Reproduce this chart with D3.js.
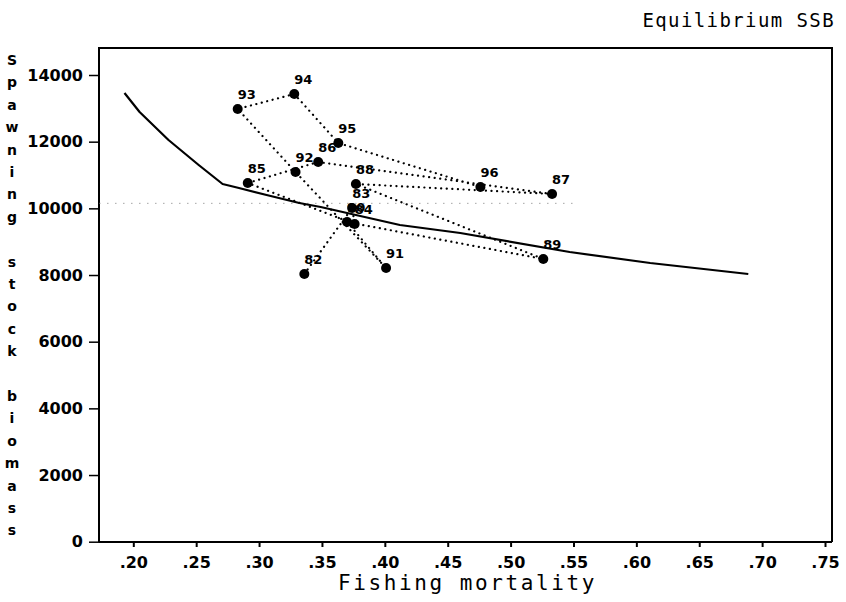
<!DOCTYPE html>
<html>
<head>
<meta charset="utf-8">
<script src="https://cdn.jsdelivr.net/npm/d3@7"></script>
<style>
  html, body { margin: 0; padding: 0; background: #fff; }
  svg { display: block; }
</style>
</head>
<body>
<svg id="chart" width="846" height="602"></svg>
<script>
// ---- data ----
const years = ["82","83","84","85","86","87","88","89","90","91","92","93","94","95","96"];
const fishingMortality = [0.336,0.374,0.376,0.291,0.347,0.533,0.377,0.526,0.370,0.401,0.329,0.283,0.328,0.363,0.476];
const spawningStock = [8030,10010,9530,10760,11390,10430,10730,8480,9590,8210,11090,12980,13430,11960,10640];

const eqF   = [0.193,0.205,0.228,0.252,0.271,0.284,0.306,0.332,0.349,0.412,0.460,0.547,0.611,0.689];
const eqSSB = [13460,12890,12050,11300,10730,10610,10400,10160,10040,9500,9260,8690,8360,8030];

const refLineSSB = 10150;
const refLineF = [0.173, 0.55];

const xTicks = [0.20,0.25,0.30,0.35,0.40,0.45,0.50,0.55,0.60,0.65,0.70,0.75];
const yTicks = [0,2000,4000,6000,8000,10000,12000,14000];

const titleText = "Equilibrium SSB";
const xTitle = "Fishing mortality";
const yTitle = "Spawning stock biomass";

// ---- layout ----
const svg = d3.select("#chart");
const frame = {left: 99, right: 832, top: 48, bottom: 542};
const x = d3.scaleLinear().domain([0.20, 0.75]).range([133.3, 825]);
const y = d3.scaleLinear().domain([0, 14000]).range([541.7, 75]);

const numFont = "'DejaVu Sans', Verdana, sans-serif";
const monoFont = "'DejaVu Sans Mono', 'Liberation Mono', monospace";

// frame
svg.append("path")
  .attr("d", `M${frame.left},${frame.bottom}V${frame.top}H${frame.right}V${frame.bottom}`)
  .attr("fill", "none").attr("stroke", "#000").attr("stroke-width", 2);

// reference dotted line
svg.append("line")
  .attr("x1", x(refLineF[0])).attr("x2", x(refLineF[1]))
  .attr("y1", y(refLineSSB)).attr("y2", y(refLineSSB))
  .attr("stroke", "#777").attr("stroke-width", 1)
  .attr("stroke-dasharray", "1,7");

// x axis
const xAxis = d3.axisBottom(x).tickValues(xTicks).tickSize(5).tickPadding(10)
  .tickFormat(d => d3.format(".2f")(d).replace(/^0/, ""));
const gx = svg.append("g").attr("transform", `translate(0,${frame.bottom})`).call(xAxis);
gx.select(".domain").attr("d", `M${frame.left},0H${frame.right}`).attr("stroke-width", 2);
gx.selectAll(".tick line").attr("stroke-width", 2);
gx.selectAll(".tick text").attr("font-family", numFont).attr("font-weight", "bold")
  .attr("font-size", 16).attr("fill", "#000");

// y axis
const yAxis = d3.axisLeft(y).tickValues(yTicks).tickSize(10).tickPadding(6)
  .tickFormat(d3.format("d"));
const gy = svg.append("g").attr("transform", `translate(${frame.left},0)`).call(yAxis);
gy.select(".domain").remove();
gy.selectAll(".tick line").attr("stroke-width", 1.5);
gy.selectAll(".tick text").attr("font-family", numFont).attr("font-weight", "bold")
  .attr("font-size", 16).attr("fill", "#000");

// equilibrium curve
const line = d3.line().x((d, i) => x(eqF[i])).y((d, i) => y(eqSSB[i]));
svg.append("path").datum(eqF)
  .attr("d", line)
  .attr("fill", "none").attr("stroke", "#000").attr("stroke-width", 2.2)
  .attr("stroke-linejoin", "round");

// trajectory dotted line
const traj = d3.line().x((d, i) => x(fishingMortality[i])).y((d, i) => y(spawningStock[i]));
svg.append("path").datum(years)
  .attr("d", traj)
  .attr("fill", "none").attr("stroke", "#000").attr("stroke-width", 2.2)
  .attr("stroke-dasharray", "0.1,5.5").attr("stroke-linecap", "round");

// points
svg.append("g").selectAll("circle").data(years).join("circle")
  .attr("cx", (d, i) => x(fishingMortality[i]))
  .attr("cy", (d, i) => y(spawningStock[i]))
  .attr("r", 5).attr("fill", "#000");

// year labels
svg.append("g").selectAll("text").data(years).join("text")
  .attr("x", (d, i) => x(fishingMortality[i]) + 0)
  .attr("y", (d, i) => y(spawningStock[i]) - 10)
  .attr("font-family", numFont).attr("font-weight", "bold").attr("font-size", 13)
  .attr("fill", "#000")
  .text(d => d);

// title
svg.append("text")
  .attr("x", 835).attr("y", 27)
  .attr("text-anchor", "end")
  .attr("font-family", monoFont).attr("font-size", 19)
  .attr("letter-spacing", "1.4px")
  .attr("fill", "#000")
  .text(titleText);

// x title
svg.append("text")
  .attr("x", (frame.left + frame.right) / 2 + 2).attr("y", 590)
  .attr("text-anchor", "middle")
  .attr("font-family", monoFont).attr("font-size", 21)
  .attr("letter-spacing", "2.6px")
  .attr("fill", "#000")
  .text(xTitle);

// y title (stacked letters)
const yChars = yTitle.split("");
svg.append("g").selectAll("text").data(yChars).join("text")
  .attr("x", 12)
  .attr("y", (d, i) => 60 + i * 22.4)
  .attr("text-anchor", "middle")
  .attr("dominant-baseline", "central")
  .attr("font-family", numFont).attr("font-weight", "bold").attr("font-size", 14)
  .attr("fill", "#000")
  .text(d => d);
</script>
</body>
</html>
